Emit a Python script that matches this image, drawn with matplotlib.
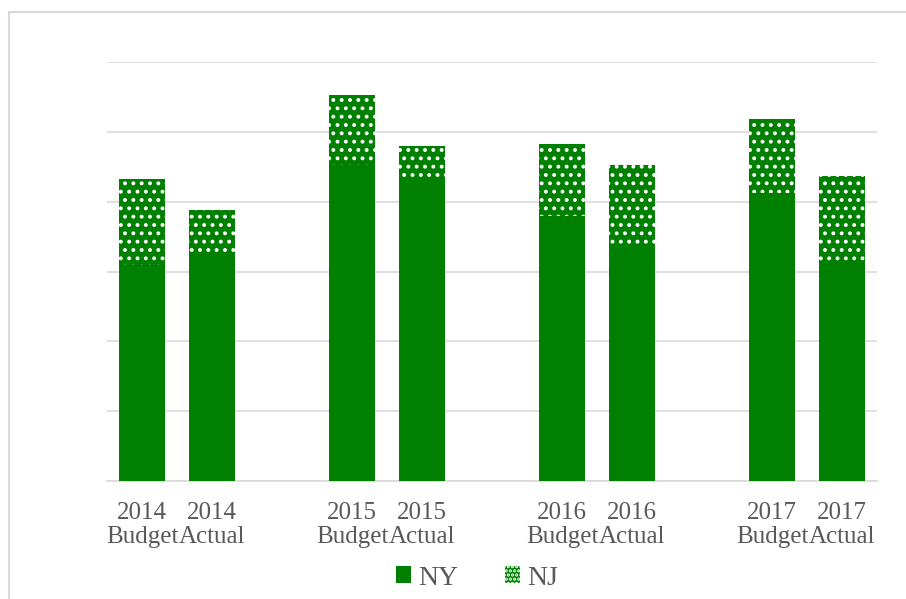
import matplotlib.pyplot as plt
from matplotlib.patches import Patch, Rectangle

labels = ["2014\nBudget", "2014\nActual", "2015\nBudget", "2015\nActual",
          "2016\nBudget", "2016\nActual", "2017\nBudget", "2017\nActual"]
ny = [30.9, 32.4, 45.3, 43.4, 38.0, 33.8, 41.3, 31.2]
nj = [12.4, 6.4, 10.0, 4.5, 10.3, 11.5, 10.6, 12.5]
positions = [0, 1, 3, 4, 6, 7, 9, 10]

green = "#008000"
grid = "#d9d9d9"
text_col = "#595959"

plt.rcParams['font.family'] = ['Liberation Serif', 'DejaVu Serif']
plt.rcParams['hatch.linewidth'] = 1.6

fig = plt.figure(figsize=(9.06, 5.99), dpi=100)
ax = fig.add_axes([107 / 906, 1 - 481 / 599, 770 / 906, 419 / 599])

ax.bar(positions, ny, width=0.66, color=green, linewidth=0, zorder=3)
ax.bar(positions, nj, bottom=ny, width=0.66, color=green, edgecolor="white",
       hatch="..", linewidth=0, zorder=3)

ax.set_xlim(-0.5, 10.5)
ax.set_ylim(0, 60)
ax.set_yticks(range(0, 61, 10))
ax.set_yticklabels([])
ax.tick_params(axis="y", length=0)
ax.yaxis.grid(True, color=grid, linewidth=1.2, zorder=0)
ax.set_xticks(positions)
ax.set_xticklabels(labels, fontsize=18, color=text_col, linespacing=1.1)
ax.tick_params(axis="x", length=0, pad=15)
for s in ["top", "right", "left"]:
    ax.spines[s].set_visible(False)
ax.spines["bottom"].set_color(grid)
ax.spines["bottom"].set_linewidth(1.2)

# chart area border
fig.patches.append(Rectangle((9 / 906, -0.2), 2.0, 1.2 - 12 / 599, transform=fig.transFigure,
                             fill=False, edgecolor=grid, linewidth=1.5))

handles = [Patch(facecolor=green, linewidth=0),
           Patch(facecolor=green, edgecolor="white", hatch="....", linewidth=0)]
fig.legend(handles, ["NY", "NJ"], loc="center", bbox_to_anchor=(477 / 906, 0.035), ncol=2,
           frameon=False, fontsize=20, handlelength=0.55, handleheight=0.55,
           handletextpad=0.25, columnspacing=1.7, labelcolor=text_col)

fig.savefig("out.png", dpi=100)
